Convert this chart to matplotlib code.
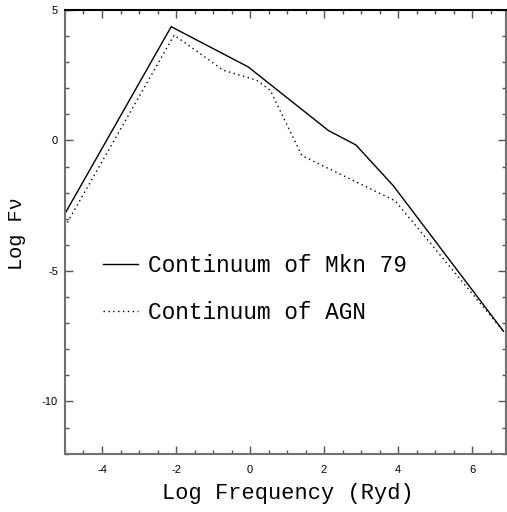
import numpy as np
import matplotlib.pyplot as plt
from matplotlib.ticker import MultipleLocator

# continuum of Mkn 79 (solid)
mkn_x = [-5.0, -2.13, -0.05, 2.12, 2.86, 3.87, 6.85]
mkn_y = [-2.8, 4.36, 2.82, 0.38, -0.17, -1.73, -7.31]

# continuum of AGN (dotted)
agn_x = [-5.0, -2.05, -0.72, 0.18, 0.55, 1.40, 3.92, 6.85]
agn_y = [-3.3, 4.04, 2.69, 2.31, 1.92, -0.58, -2.31, -7.31]

labels = ["Continuum of Mkn 79", "Continuum of AGN"]
x_ticks = [-4, -2, 0, 2, 4, 6]
y_ticks = [5, 0, -5, -10]

mono = "Liberation Mono"
plt.rcParams["axes.unicode_minus"] = False

fig = plt.figure(figsize=(5.07, 5.12), dpi=100)
ax = fig.add_axes([0.1282, 0.1139, 0.870, 0.8666])

ax.plot(mkn_x, mkn_y, color="black", lw=1.0, label=labels[0])
ax.plot(agn_x, agn_y, color="black", lw=1.0, linestyle=(0, (1, 2.5)), label=labels[1])

ax.set_xlim(-5, 6.92)
ax.set_ylim(-12, 5)
ax.set_xticks(x_ticks)
ax.set_yticks(y_ticks)
ax.xaxis.set_minor_locator(MultipleLocator(0.5))
ax.yaxis.set_minor_locator(MultipleLocator(1))

ax.tick_params(which="both", direction="in", top=True, right=True, color="#555555", width=1.0)
ax.tick_params(which="major", length=5.5)
ax.tick_params(which="minor", length=3)
ax.tick_params(axis="x", which="major", pad=8, labelsize=8)
ax.tick_params(axis="y", which="major", pad=5, labelsize=8)
for lab in ax.get_xticklabels() + ax.get_yticklabels():
    lab.set_family("Liberation Sans")

for side in ["left", "bottom", "right"]:
    ax.spines[side].set_color("#707070")
    ax.spines[side].set_linewidth(1.5)
ax.spines["top"].set_color("black")
ax.spines["top"].set_linewidth(1.5)

ax.set_xlabel("Log Frequency (Ryd)", family=mono, fontsize=15.8)
ax.xaxis.set_label_coords(0.5045, -0.066)
ax.xaxis.label.set_va("top")
ax.set_ylabel("Log F\u03bd", family=mono, fontsize=14.6)
ax.yaxis.set_label_coords(-0.110, 0.497)
ax.yaxis.label.set_va("center")

ax.legend(loc="upper left", bbox_to_anchor=(0.086, 0.45), frameon=False,
          prop={"family": mono, "size": 16.4}, handlelength=1.54,
          handletextpad=0.44, labelspacing=1.05, borderpad=0, borderaxespad=0)

fig.savefig("out.png", dpi=100)
